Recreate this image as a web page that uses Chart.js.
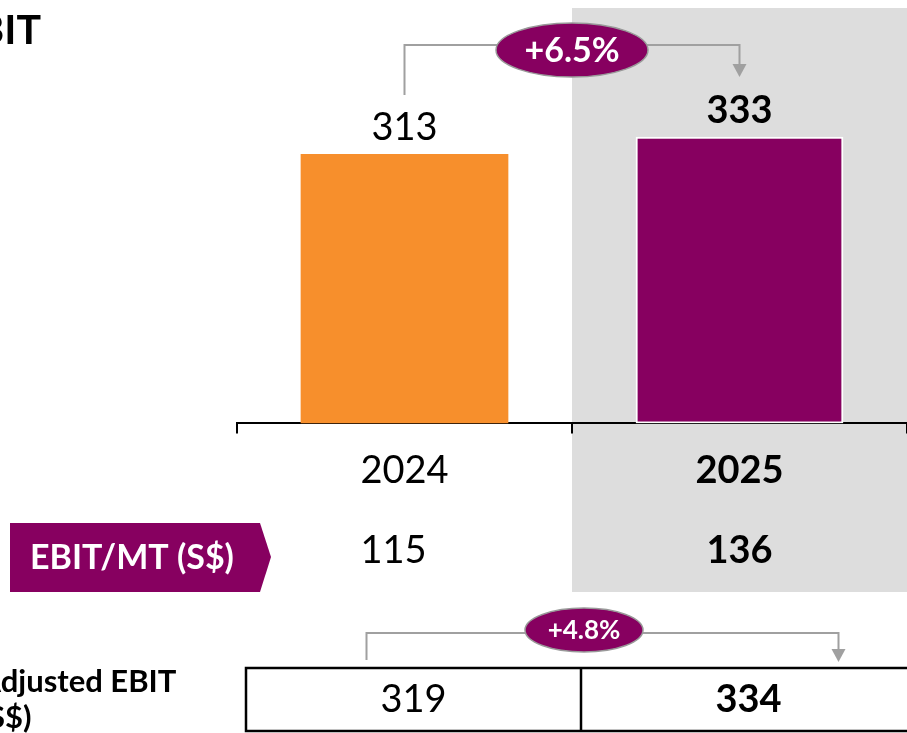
<!DOCTYPE html>
<html>
<head>
<meta charset="utf-8">
<script src="https://cdn.jsdelivr.net/npm/chart.js@4.4.1/dist/chart.umd.min.js"></script>
<style>
  html, body { margin: 0; padding: 0; background: #fff; }
  canvas { display: block; }
</style>
</head>
<body>
<canvas id="ebit" width="907" height="733"></canvas>
<script>
// values
const years = ['2024', '2025'];
const ebit = [313, 333];
const ebitPerMt = [115, 136];
const adjustedEbit = [319, 334];
const ebitGrowth = '+6.5%';
const adjustedGrowth = '+4.8%';

const PURPLE = '#870060';
const ORANGE = '#F78F2C';
const CONNECTOR = '#A0A0A0';
const FONT = 'Lato, "Open Sans", sans-serif';

const font = (size, bold) => (bold ? 'bold ' : '') + size + 'px ' + FONT;

function text(ctx, str, x, y, size, bold, color, align) {
  ctx.font = font(size, bold);
  ctx.fillStyle = color || '#000';
  ctx.textAlign = align || 'center';
  ctx.textBaseline = 'middle';
  ctx.fillText(str, x, y);
}

// bracket with an arrow and a purple oval badge in the middle
function growthBracket(ctx, x0, x1, yLine, yStart, yTip, cx, cy, rx, ry, label, size) {
  ctx.save();
  ctx.strokeStyle = CONNECTOR;
  ctx.lineWidth = 2;
  ctx.beginPath();
  ctx.moveTo(x0, yStart);
  ctx.lineTo(x0, yLine);
  ctx.lineTo(x1, yLine);
  ctx.lineTo(x1, yTip - 12);
  ctx.stroke();
  ctx.fillStyle = CONNECTOR;
  ctx.beginPath();
  ctx.moveTo(x1 - 7, yTip - 13);
  ctx.lineTo(x1 + 7, yTip - 13);
  ctx.lineTo(x1, yTip);
  ctx.closePath();
  ctx.fill();
  ctx.beginPath();
  ctx.ellipse(cx, cy, rx, ry, 0, 0, Math.PI * 2);
  ctx.fillStyle = PURPLE;
  ctx.fill();
  ctx.lineWidth = 1.5;
  ctx.strokeStyle = '#999';
  ctx.stroke();
  ctx.restore();
  text(ctx, label, cx, cy + 1, size, true, '#fff');
}

const slideDecor = {
  id: 'slideDecor',
  beforeDraw(chart) {
    const { ctx, scales: { x } } = chart;
    const mid = (x.getPixelForValue(0) + x.getPixelForValue(1)) / 2;
    ctx.save();
    // shaded current-year column
    ctx.fillStyle = '#DDDDDD';
    ctx.fillRect(mid, 8, chart.width - mid, 584);

    // cropped slide title
    text(ctx, 'EBIT', 41, 31, 41, true, '#000', 'right');

    // EBIT/MT arrow tag
    ctx.fillStyle = PURPLE;
    ctx.beginPath();
    ctx.moveTo(10, 523);
    ctx.lineTo(260, 523);
    ctx.lineTo(271, 557);
    ctx.lineTo(260, 592);
    ctx.lineTo(10, 592);
    ctx.closePath();
    ctx.fill();
    text(ctx, 'EBIT/MT (S$)', 132, 558, 34, true, '#fff');
    ctx.restore();
  },
  afterDraw(chart) {
    const { ctx, scales: { x } } = chart;
    const bars = chart.getDatasetMeta(0).data;
    ctx.save();

    // bar value labels
    bars.forEach((bar, i) => {
      text(ctx, String(ebit[i]), bar.x, bar.y - 26, 38, i === 1, '#000');
    });

    // EBIT growth bracket
    const cx0 = x.getPixelForValue(0);
    const cx1 = x.getPixelForValue(1);
    const mid = (cx0 + cx1) / 2;
    growthBracket(ctx, cx0, cx1, 45, 95, 77, mid, 50, 76, 27, ebitGrowth, 34);

    // EBIT per tonne row
    ebitPerMt.forEach((v, i) => {
      text(ctx, String(v), x.getPixelForValue(i) - (i === 0 ? 11 : 0), 551, 38, i === 1, '#000');
    });

    // adjusted EBIT row
    growthBracket(ctx, cx0 - 38, cx1 + 99, 633, 660, 662, mid + 12, 630, 59, 22, adjustedGrowth, 26);

    ctx.font = font(31, true);
    const left = -ctx.measureText('A').width + 1;
    text(ctx, 'Adjusted EBIT', left, 682, 31, true, '#000', 'left');
    text(ctx, '(S$)', left, 718, 31, true, '#000', 'left');

    ctx.strokeStyle = '#000';
    ctx.lineWidth = 2.5;
    ctx.strokeRect(246, 668, chart.width - 246 + 4, 63);
    ctx.beginPath();
    ctx.moveTo(mid + 9, 668);
    ctx.lineTo(mid + 9, 731);
    ctx.stroke();
    adjustedEbit.forEach((v, i) => {
      text(ctx, String(v), x.getPixelForValue(i) + 9, 700, 38, i === 1, '#000');
    });
    ctx.restore();
  }
};

new Chart(document.getElementById('ebit'), {
  type: 'bar',
  data: {
    labels: years,
    datasets: [{
      data: ebit,
      backgroundColor: [ORANGE, PURPLE],
      borderColor: [ORANGE, '#ffffff'],
      borderWidth: [0, 2],
      borderSkipped: false,
      categoryPercentage: 1,
      barPercentage: 0.62
    }]
  },
  options: {
    responsive: false,
    animation: false,
    devicePixelRatio: 1,
    layout: { padding: { left: 237, right: 0, top: 24, bottom: 224 } },
    plugins: { legend: { display: false }, tooltip: { enabled: false } },
    scales: {
      y: { display: false, min: 0, max: 464 },
      x: {
        offset: true,
        border: { display: true, color: '#000', width: 2 },
        grid: { offset: true, drawOnChartArea: false, drawTicks: true, tickLength: 10, color: '#000', lineWidth: 2 },
        ticks: {
          padding: 15,
          color: '#000',
          font: ctx => ({ family: FONT, size: 38, weight: ctx.index === 1 ? 'bold' : 'normal' })
        }
      }
    }
  },
  plugins: [slideDecor]
});
</script>
</body>
</html>
